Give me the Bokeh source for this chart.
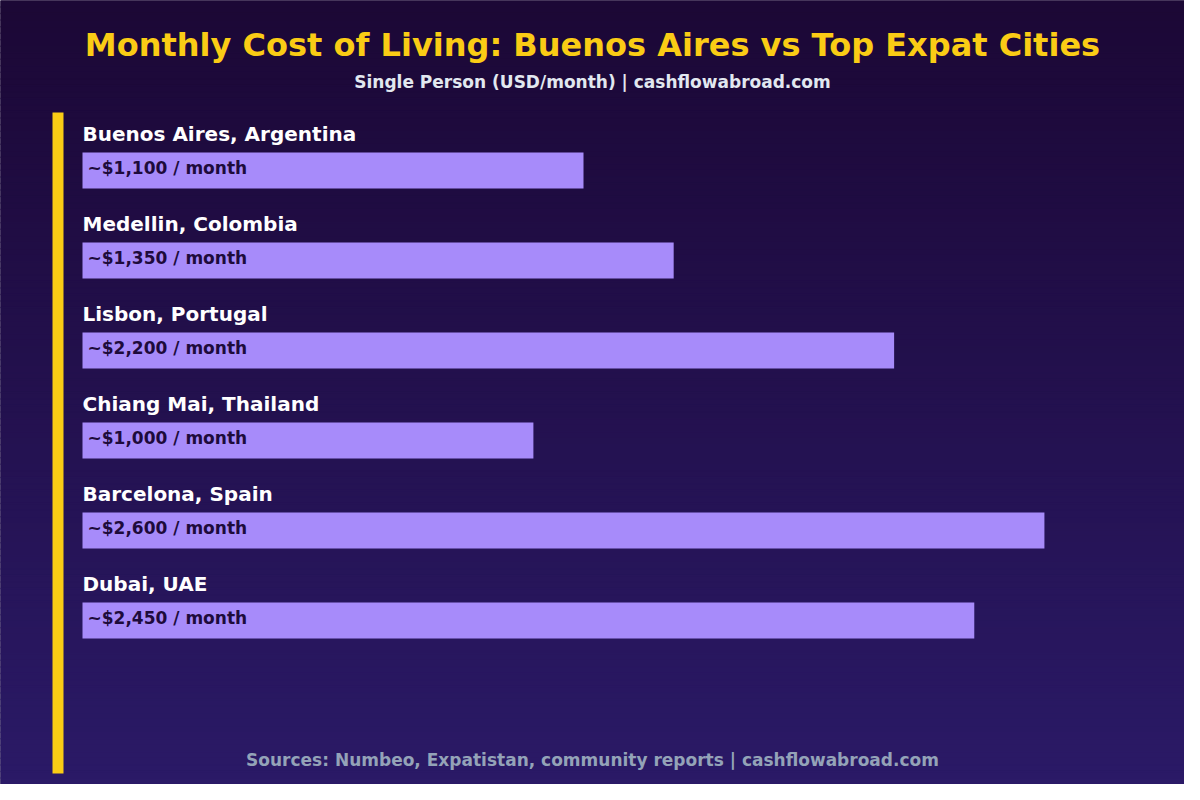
import numpy as np
from bokeh.plotting import figure
from bokeh.models import Range1d, Label, ColumnDataSource
from bokeh.core.properties import value
from bokeh.embed import file_html
from bokeh.resources import INLINE

# data
cities = ["Buenos Aires, Argentina", "Medellin, Colombia", "Lisbon, Portugal",
          "Chiang Mai, Thailand", "Barcelona, Spain", "Dubai, UAE"]
monthly_cost = [1100, 1350, 2200, 1000, 2600, 2450]
bar_pct = [50, 59, 81, 45, 96, 89]   # bar length as % of the track

title = "Monthly Cost of Living: Buenos Aires vs Top Expat Cities"
subtitle = "Single Person (USD/month) | cashflowabroad.com"
footer = "Sources: Numbeo, Expatistan, community reports | cashflowabroad.com"

FONT = value("DejaVu Sans")
W, H = 1184, 784
PX_PER_PCT = 10.02      # track of 100% ~ 1002px
X0 = 82                 # px where the bars start
ROW_PX = 90             # px between rows
Y0 = 170                # px (from top) of first bar centre
TXT_UP = 8              # text baseline correction, px

x_range = Range1d(-X0 / PX_PER_PCT, (W - X0) / PX_PER_PCT)
y_range = Range1d((H - Y0) / ROW_PX, -Y0 / ROW_PX)   # flipped: row 0 at top

p = figure(width=W, height=H, x_range=x_range, y_range=y_range,
           toolbar_location=None, output_backend="svg",
           x_axis_location=None, y_axis_location=None, min_border=0)
p.grid.visible = False
p.outline_line_color = None
p.background_fill_color = "#1c0836"
p.border_fill_color = "#1c0836"

# background gradient, dark at top -> lighter violet at bottom
n = 120
edges = np.linspace(y_range.end, y_range.start, n + 1)
c_top = np.array([28, 8, 54])
c_bot = np.array([43, 26, 103])
cols = []
for t in np.linspace(0, 1, n):
    c = (c_top + (c_bot - c_top) * t).astype(int)
    cols.append("#%02x%02x%02x" % tuple(c))
p.quad(left=x_range.start, right=x_range.end, top=edges[:-1], bottom=edges[1:],
       fill_color=cols, line_color=cols, line_width=1.5)

# yellow accent bar on the left
p.quad(left=-30 / PX_PER_PCT, right=-19 / PX_PER_PCT,
       top=-58 / ROW_PX, bottom=603 / ROW_PX,
       fill_color="#facc15", line_color=None)

rows = list(range(len(cities)))
src = ColumnDataSource(data=dict(
    row=rows,
    pct=bar_pct,
    city=cities,
    city_y=[r - (29 + TXT_UP) / ROW_PX for r in rows],
    lab_y=[r + (5 - TXT_UP) / ROW_PX for r in rows],
    label=["~$%s / month" % format(v, ",") for v in monthly_cost],
))

p.hbar(y="row", left=0, right="pct", height=36 / ROW_PX, source=src,
       fill_color="#a78bfa", line_color=None)

p.text(x=0, y="city_y", text="city", source=src, text_font=FONT,
       text_font_style="bold", text_font_size="20px", text_color="#ffffff",
       text_baseline="alphabetic", text_align="left")
p.text(x=5 / PX_PER_PCT, y="lab_y", text="label", source=src, text_font=FONT,
       text_font_style="bold", text_font_size="17px", text_color="#1e0b3c",
       text_baseline="alphabetic", text_align="left")


def screen_y(y_ref):
    # reference pixel row (from top of the window) -> screen y from bottom
    return H + 8 - y_ref + TXT_UP


p.add_layout(Label(x=W / 2, y=screen_y(60), x_units="screen", y_units="screen",
                   text=title, text_font="DejaVu Sans", text_font_style="bold",
                   text_font_size="32px", text_color="#facc15",
                   text_align="center", text_baseline="alphabetic"))
p.add_layout(Label(x=W / 2, y=screen_y(97), x_units="screen", y_units="screen",
                   text=subtitle, text_font="DejaVu Sans", text_font_style="bold",
                   text_font_size="17px", text_color="#e2e8f0",
                   text_align="center", text_baseline="alphabetic"))
p.add_layout(Label(x=W / 2, y=screen_y(775), x_units="screen", y_units="screen",
                   text=footer, text_font="DejaVu Sans", text_font_style="bold",
                   text_font_size="17px", text_color="#94a3b8",
                   text_align="center", text_baseline="alphabetic"))

open("out.html", "w").write(file_html(p, INLINE))
